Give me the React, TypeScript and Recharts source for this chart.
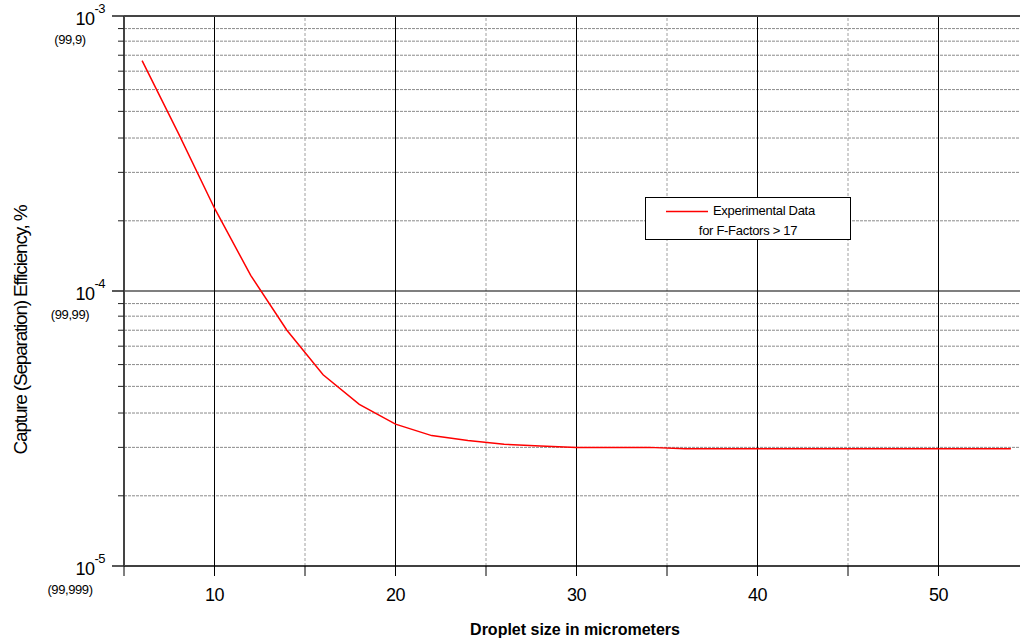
import React from "react";
import { Line, LineChart, ReferenceLine, XAxis, YAxis } from "recharts";

// droplet size (micrometers) and capture efficiency
const dropletSize = [6, 8, 10, 12, 14, 16, 18, 20, 22, 24, 26, 28, 30, 32, 34, 36, 38, 40, 42, 44, 46, 48, 50, 52, 54];
const efficiency = [
  6.88e-4, 3.75e-4, 2.0e-4, 1.14e-4, 7.2e-5, 4.96e-5, 3.87e-5, 3.28e-5, 2.98e-5, 2.86e-5, 2.77e-5, 2.73e-5, 2.7e-5,
  2.7e-5, 2.7e-5, 2.67e-5, 2.67e-5, 2.67e-5, 2.67e-5, 2.67e-5, 2.67e-5, 2.67e-5, 2.67e-5, 2.67e-5, 2.67e-5,
];

const xTicks = [5, 10, 15, 20, 25, 30, 35, 40, 45, 50, 55];
const xMajor = [10, 20, 30, 40, 50];
const xMinor = [15, 25, 35, 45];

const yMajor = [1e-5, 1e-4, 1e-3];
const yMinor = [
  1.8e-5, 2.7e-5, 3.6e-5, 4.5e-5, 5.4e-5, 6.3e-5, 7.2e-5, 8.1e-5, 9e-5,
  1.8e-4, 2.7e-4, 3.6e-4, 4.5e-4, 5.4e-4, 6.3e-4, 7.2e-4, 8.1e-4, 9e-4,
];
const yExponent = ["-5", "-4", "-3"];
const yPercent = ["(99,999)", "(99,99)", "(99,9)"];

const data = dropletSize.map((d, i) => ({ d, e: efficiency[i] }));

const FONT = "'Liberation Sans', Arial, sans-serif";

function YTick(props: any) {
  const { x, y, payload } = props;
  const i = yMajor.indexOf(payload.value);
  if (i < 0) {
    return <line x1={x - 6} x2={x} y1={y} y2={y} stroke="#222" strokeWidth={1} />;
  }
  return (
    <g>
      <line x1={x - 12} x2={x} y1={y} y2={y} stroke="#222" strokeWidth={1.5} />
      <text x={x - 19} y={y + 9} textAnchor="end" fontSize={18} fill="#000" letterSpacing={-0.5}>
        10
        <tspan dy={-12} fontSize={13}>
          {yExponent[i]}
        </tspan>
      </text>
      <text x={x - 54} y={y + 28} textAnchor="middle" fontSize={13} fill="#000" letterSpacing={-0.4}>
        {yPercent[i]}
      </text>
    </g>
  );
}

export default function App() {
  return (
    <div
      style={{
        position: "fixed",
        left: 0,
        top: 0,
        width: 1020,
        height: 644,
        overflow: "hidden",
        background: "#fff",
        fontFamily: FONT,
      }}
    >
      <LineChart width={1040} height={644} data={data} margin={{ top: 16, right: 11, bottom: 38, left: 24 }}>
        {yMinor.map((v) => (
          <ReferenceLine key={"ym" + v} y={v} stroke="#8a8a8a" strokeDasharray="3 1" strokeWidth={1} />
        ))}
        {xMinor.map((v) => (
          <ReferenceLine key={"xm" + v} x={v} stroke="#a0a0a0" strokeDasharray="3 2" strokeWidth={1} />
        ))}
        {xMajor.map((v) => (
          <ReferenceLine key={"xM" + v} x={v} stroke="#000" strokeWidth={1} />
        ))}
        <ReferenceLine y={1e-4} stroke="#000" strokeWidth={1.2} />
        <ReferenceLine y={1e-3} stroke="#444" strokeWidth={2} />
        <XAxis
          dataKey="d"
          type="number"
          domain={[5, 55]}
          ticks={xTicks}
          height={40}
          tickSize={10}
          tickMargin={12}
          axisLine={{ stroke: "#000", strokeWidth: 1.5 }}
          tickLine={{ stroke: "#000", strokeWidth: 1 }}
          tick={{ fontSize: 18, fill: "#000", letterSpacing: -0.5 } as any}
          tickFormatter={(v) => (v % 10 === 0 ? String(v) : "")}
          label={{
            content: () => (
              <text x={575} y={635} textAnchor="middle" fontSize={16} fontWeight="bold" fill="#000">
                Droplet size in micrometers
              </text>
            ),
          }}
        />
        <YAxis
          dataKey="e"
          scale="log"
          domain={[1e-5, 1e-3]}
          allowDataOverflow
          ticks={[...yMajor, ...yMinor]}
          interval={0}
          width={100}
          tickSize={0}
          tickMargin={0}
          tickLine={false}
          axisLine={{ stroke: "#444", strokeWidth: 2 }}
          tick={<YTick />}
          label={{
            content: () => (
              <text
                x={22}
                y={330}
                transform="rotate(-90 22 330)"
                textAnchor="middle"
                dominantBaseline="middle"
                fontSize={19}
                letterSpacing={-1.2}
                fill="#000"
              >
                Capture (Separation) Efficiency, %
              </text>
            ),
          }}
        />
        <Line type="linear" dataKey="e" stroke="#ff0000" strokeWidth={1.5} dot={false} isAnimationActive={false} />
      </LineChart>
      <div
        style={{
          position: "absolute",
          left: 645,
          top: 197,
          width: 204,
          height: 41,
          border: "1px solid #000",
          background: "#fff",
          fontSize: 13,
          color: "#000",
        }}
      >
        <svg style={{ position: "absolute", left: 20, top: 12 }} width={42} height={3}>
          <line x1={0} x2={42} y1={1.5} y2={1.5} stroke="#ff0000" strokeWidth={1.5} />
        </svg>
        <div style={{ position: "absolute", left: 67, top: 5, whiteSpace: "nowrap", letterSpacing: -0.3 }}>
          Experimental Data
        </div>
        <div
          style={{
            position: "absolute",
            left: 0,
            width: 204,
            top: 25,
            textAlign: "center",
            whiteSpace: "nowrap",
            letterSpacing: -0.3,
          }}
        >
          for F-Factors &gt; 17
        </div>
      </div>
    </div>
  );
}
